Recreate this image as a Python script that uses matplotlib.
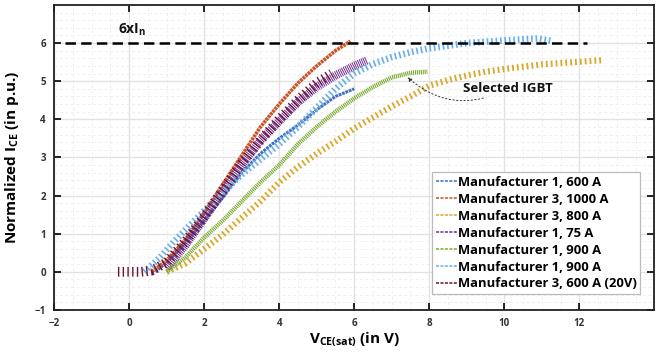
import matplotlib
matplotlib.use("Agg")
import matplotlib.pyplot as plt
from matplotlib.lines import Line2D
from matplotlib.ticker import MultipleLocator

plt.rcParams['font.family'] = ['Open Sans', 'DejaVu Sans']
plt.rcParams['font.weight'] = 'bold'
plt.rcParams['mathtext.fontset'] = 'custom'
plt.rcParams['mathtext.rm'] = 'Open Sans:bold'
plt.rcParams['mathtext.bf'] = 'Open Sans:bold'
plt.rcParams['mathtext.it'] = 'Open Sans:bold'
plt.rcParams['lines.scale_dashes'] = False

# ---------------- data ----------------
labels = ["Manufacturer 1, 600 A", "Manufacturer 3, 1000 A", "Manufacturer 3, 800 A",
          "Manufacturer 1, 75 A", "Manufacturer 1, 900 A", "Manufacturer 1, 900 A",
          "Manufacturer 3, 600 A (20V)"]
colors = ["#3f6fc4", "#c8562a", "#dba72a", "#6e2d8f", "#7aaa2e", "#6aaee8", "#6d1235"]

m1_600_x = [0.7, 1.0, 1.5, 2.0, 2.5, 3.0, 3.5, 4.0, 4.5, 5.0, 5.5, 6.0]
m1_600_y = [0.0, 0.25, 0.75, 1.35, 1.95, 2.6, 3.1, 3.5, 3.85, 4.25, 4.6, 4.8]

m3_1000_x = [0.6, 1.0, 1.5, 2.0, 2.5, 3.0, 3.5, 4.0, 4.5, 5.0, 5.5, 5.9]
m3_1000_y = [0.0, 0.3, 0.85, 1.55, 2.3, 3.05, 3.8, 4.4, 4.95, 5.4, 5.8, 6.05]

m3_800_x = [1.0, 1.5, 2.0, 2.5, 3.0, 3.5, 4.0, 4.5, 5.0, 5.5, 6.0, 6.5, 7.0, 7.5,
            8.0, 8.5, 9.0, 9.5, 10.0, 11.0, 12.0, 12.6]
m3_800_y = [0.0, 0.22, 0.6, 0.98, 1.42, 1.85, 2.35, 2.75, 3.1, 3.42, 3.76, 4.05, 4.34, 4.6,
            4.88, 5.03, 5.15, 5.25, 5.32, 5.44, 5.51, 5.55]

m1_75_x = [1.0, 1.5, 2.0, 2.5, 3.0, 3.5, 4.0, 4.5, 5.0, 5.5, 6.0, 6.35]
m1_75_y = [0.1, 0.7, 1.4, 2.1, 2.8, 3.45, 3.95, 4.45, 4.85, 5.15, 5.4, 5.55]

m1_900a_x = [1.0, 1.5, 2.0, 2.5, 3.0, 3.5, 4.0, 4.5, 5.0, 5.5, 6.0, 6.5, 7.0, 7.5, 7.95]
m1_900a_y = [0.0, 0.38, 0.9, 1.35, 1.85, 2.35, 2.8, 3.35, 3.8, 4.2, 4.55, 4.85, 5.1, 5.22, 5.25]

m1_900b_x = [0.4, 0.8, 1.2, 1.6, 2.0, 2.5, 3.0, 3.5, 4.0, 4.5, 5.0, 5.5, 6.0, 6.5, 7.0,
             7.5, 8.0, 9.0, 10.0, 10.9, 11.3]
m1_900b_y = [0.0, 0.35, 0.8, 1.2, 1.6, 2.1, 2.55, 2.95, 3.35, 3.8, 4.3, 4.8, 5.2, 5.45, 5.63,
             5.76, 5.86, 6.0, 6.07, 6.12, 6.05]

m3_600_x = [-0.3, 0.0, 0.3, 0.6, 1.0, 1.5, 2.0, 2.5, 3.0, 3.5, 4.0, 4.5, 5.0, 5.4]
m3_600_y = [0.0, 0.0, 0.0, 0.03, 0.25, 0.8, 1.45, 2.15, 2.85, 3.45, 4.0, 4.5, 4.95, 5.2]

limit_x = [-1.7, 12.2]
limit_y = [6, 6]

x_ticks = [-2, 0, 2, 4, 6, 8, 10, 12]
y_ticks = [-1, 0, 1, 2, 3, 4, 5, 6]

# ---------------- figure ----------------
fig = plt.figure(figsize=(6.69, 3.53), dpi=100)
ax = fig.add_axes([0.081, 0.122, 0.897, 0.864])

ax.set_xlim(-2, 14)
ax.set_ylim(-1, 7)
ax.set_xticks(x_ticks)
ax.set_yticks(y_ticks)
ax.xaxis.set_minor_locator(MultipleLocator(0.5))
ax.yaxis.set_minor_locator(MultipleLocator(0.2))
ax.grid(which='major', color='#e2e2e2', lw=1.0, ls='-')
ax.grid(which='minor', color='#ececec', lw=0.6, ls=(0, (2, 2)))
ax.set_axisbelow(True)
ax.tick_params(which='major', direction='in', length=5, width=1.2, top=True, right=True,
               labelsize=7, labelcolor='#333333', pad=6)
ax.tick_params(which='minor', length=0)
for s in ax.spines.values():
    s.set_linewidth(1.3)
    s.set_color('#222222')

series = [
    (m1_600_x, m1_600_y, 2.2, (0, (2.0, 0.6))),
    (m3_1000_x, m3_1000_y, 2.6, (0, (2.0, 0.5))),
    (m3_800_x, m3_800_y, 4.5, (0, (1.3, 2.2))),
    (m1_75_x, m1_75_y, 6.0, (0, (0.7, 0.7))),
    (m1_900a_x, m1_900a_y, 3.2, (0, (0.8, 0.6))),
    (m1_900b_x, m1_900b_y, 4.8, (0, (1.2, 2.0))),
    (m3_600_x, m3_600_y, 7.0, (0, (1.0, 2.4))),
]
order = [2, 4, 0, 5, 1, 3, 6]
for i in order:
    xs, ys, lw, ls = series[i]
    ax.plot(xs, ys, color=colors[i], lw=lw, ls=ls, solid_capstyle='butt',
            dash_capstyle='butt', zorder=3 + i * 0.1)

ax.plot(limit_x, limit_y, color='black', lw=1.8, ls=(0, (7.5, 3.8)), zorder=5)
ax.text(-0.3, 6.12, r'6xI$_\mathregular{n}$', fontsize=10, fontweight='bold', color='#111111',
        va='bottom', ha='left')

ax.annotate('Selected IGBT', xy=(7.42, 5.1), xytext=(8.9, 4.82), fontsize=9.5,
            fontweight='bold', va='center', ha='left', color='#111111',
            arrowprops=dict(arrowstyle='-|>', color='#333333', lw=0.7, ls=':',
                            mutation_scale=6, shrinkA=2, shrinkB=0,
                            connectionstyle='arc3,rad=-0.35'), zorder=6)

ax.set_xlabel(r'V$_\mathregular{CE(sat)}$ (in V)', fontsize=11, fontweight='bold', labelpad=1)
ax.set_ylabel(r'Normalized I$_\mathregular{CE}$ (in p.u.)', fontsize=11, fontweight='bold', labelpad=10)

handles = [Line2D([], [], color=c, lw=1.1, ls=(0, (2.2, 1.0))) for c in colors]
leg = ax.legend(handles, labels, loc='upper left', bbox_to_anchor=(0.63, 0.452),
                borderaxespad=0, prop={'weight': 'bold', 'size': 9.4},
                handlelength=1.6, handletextpad=0.05, labelspacing=0.3,
                fancybox=False, framealpha=1, edgecolor='#bbbbbb', borderpad=0.3)
leg.get_frame().set_linewidth(0.9)

fig.savefig('out.png', dpi=100)
